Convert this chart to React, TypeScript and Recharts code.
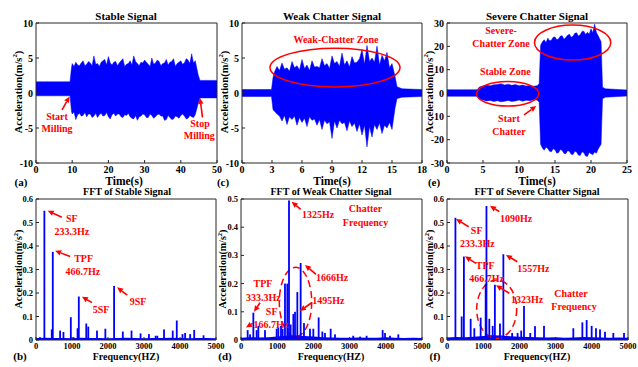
import React from 'react'
import {
  ComposedChart,
  Area,
  Bar,
  XAxis,
  YAxis,
  ReferenceDot,
  ReferenceLine,
  ReferenceArea,
} from 'recharts'

const BLUE = '#0000ff'
const RED = '#ff0000'
const AXIS = '#262626'
const FONT = '"Liberation Serif", "Times New Roman", Times, "DejaVu Serif", serif'

// (a) stable signal, envelope of the acceleration trace
const aTime = [
  0, 3, 6, 9.4, 9.8,
  10, 10.5, 11, 11.5, 12, 12.5, 13, 13.5, 14, 14.5,
  15, 15.5, 16, 16.5, 17, 17.5, 18, 18.5, 19, 19.5,
  20, 20.5, 21, 21.5, 22, 22.5, 23, 23.5, 24, 24.5,
  25, 25.5, 26, 26.5, 27, 27.5, 28, 28.5, 29, 29.5,
  30, 30.5, 31, 31.5, 32, 32.5, 33, 33.5, 34, 34.5,
  35, 35.5, 36, 36.5, 37, 37.5, 38, 38.5, 39, 39.5,
  40, 40.5, 41, 41.5, 42, 42.5, 43, 43.5, 44,
  44.8, 45.3, 48, 50,
]
const aHigh = [
  1.6, 1.6, 1.6, 1.6, 3.6,
  4.2, 3.8, 4.4, 4.0, 3.9, 4.3, 4.6, 3.9, 4.1, 4.5,
  4.3, 3.9, 5.3, 4.1, 4.2, 3.8, 4.4, 4.6, 4.8, 4.0,
  5.2, 4.3, 4.0, 4.4, 4.5, 3.9, 4.3, 4.6, 4.9, 3.8,
  4.1, 4.2, 4.6, 4.0, 5.3, 4.5, 4.2, 3.9, 4.4, 4.3,
  4.7, 4.4, 4.1, 3.8, 5.0, 4.1, 4.3, 4.7, 4.5, 3.9,
  4.2, 4.3, 4.8, 4.0, 4.4, 4.5, 4.9, 3.8, 4.2, 4.4,
  4.6, 4.1, 4.3, 4.9, 4.7, 4.2, 5.6, 4.3, 4.6,
  2.6, 1.8, 1.8, 1.8,
]
const aLow = [
  -0.4, -0.4, -0.4, -0.4, -2.6,
  -3.0, -2.7, -3.8, -3.1, -2.9, -3.3, -3.2, -2.8, -3.4, -3.0,
  -3.0, -3.5, -3.3, -2.9, -3.5, -3.1, -2.9, -3.3, -3.2, -2.8,
  -3.4, -3.7, -3.1, -2.9, -3.3, -3.0, -3.0, -3.4, -3.5, -3.1,
  -3.2, -2.9, -3.4, -3.6, -3.7, -3.2, -3.9, -3.4, -3.3, -3.0,
  -3.1, -3.5, -3.5, -3.0, -3.2, -3.6, -3.4, -3.1, -3.0, -3.3,
  -3.3, -3.9, -3.8, -3.2, -3.5, -3.8, -3.7, -3.3, -3.4, -3.6,
  -3.2, -3.0, -3.3, -3.7, -3.6, -3.2, -3.4, -3.5, -3.1,
  -1.5, -0.7, -0.7, -0.7,
]

// (c) weak chatter signal
const cTime = [
  0, 2.95, 3.1,
  3.25, 3.5, 3.75, 4, 4.25, 4.5, 4.75, 5,
  5.25, 5.5, 5.75, 6, 6.25, 6.5, 6.75, 7,
  7.25, 7.5, 7.75, 8, 8.25, 8.5, 8.75, 9,
  9.25, 9.5, 9.75, 10, 10.25, 10.5, 10.75, 11,
  11.25, 11.5, 11.75, 12, 12.25, 12.5, 12.75, 13,
  13.25, 13.5, 13.75, 14, 14.25, 14.5, 14.75, 15,
  15.3, 15.5, 16, 18,
]
const cHigh = [
  0.5, 0.5, 2.2,
  3.0, 3.8, 3.2, 4.3, 3.4, 3.6, 3.1, 4.5,
  3.6, 3.9, 3.3, 4.8, 3.5, 4.0, 3.2, 4.6,
  3.7, 3.8, 3.6, 4.9, 3.9, 4.2, 3.5, 5.3,
  4.2, 4.5, 3.8, 5.7, 4.0, 4.6, 3.7, 5.2,
  4.3, 4.4, 4.9, 6.2, 4.1, 6.8, 4.5, 5.0,
  4.4, 6.7, 4.0, 5.4, 4.6, 5.8, 3.6, 4.2,
  2.4, 0.9, 0.6, 0.5,
]
const cLow = [
  -0.5, -0.5, -2.4,
  -2.6, -3.0, -3.3, -4.0, -3.2, -4.5, -3.4, -3.8,
  -3.3, -4.6, -3.5, -4.2, -3.6, -4.8, -3.4, -3.9,
  -3.7, -4.6, -3.8, -5.2, -3.9, -4.4, -4.1, -6.5,
  -4.0, -5.0, -3.9, -4.4, -4.2, -5.4, -4.0, -4.8,
  -4.3, -5.5, -4.4, -6.0, -4.6, -7.7, -4.8, -6.3,
  -4.5, -5.2, -4.3, -5.8, -4.6, -5.0, -4.2, -5.2,
  -2.2, -0.8, -0.6, -0.5,
]

// (e) severe chatter signal
const eTime = [
  0, 4.2,
  4.5, 5, 5.5, 6, 6.5, 7, 7.5, 8, 8.5, 9, 9.5, 10, 10.5, 11, 11.5, 12, 12.5,
  12.8,
  13, 13.25, 13.5, 13.75, 14, 14.25, 14.5, 14.75,
  15, 15.25, 15.5, 15.75, 16, 16.25, 16.5, 16.75,
  17, 17.25, 17.5, 17.75, 18, 18.25, 18.5, 18.75,
  19, 19.25, 19.5, 19.75, 20, 20.25, 20.5, 20.75,
  21,
  21.4, 21.6, 22, 25,
]
const eHigh = [
  1.4, 1.4,
  2.6, 3.0, 3.3, 3.1, 3.5, 3.6, 4.0, 3.4, 3.8, 3.3, 3.6, 3.1, 3.4, 3.0, 3.2, 2.9, 3.1,
  4.0,
  20.5, 22.0, 22.8, 21.6, 23.5, 22.4, 22.6, 23.9,
  24.0, 22.8, 23.2, 24.4, 24.5, 23.0, 23.8, 24.8,
  25.2, 23.9, 24.3, 25.6, 25.8, 24.4, 25.0, 26.4,
  26.5, 25.1, 26.0, 25.2, 27.5, 25.8, 29.5, 26.0,
  24.5,
  22.0, 2.5, 1.8, 1.3,
]
const eLow = [
  -1.4, -1.4,
  -2.6, -3.0, -3.4, -3.2, -3.6, -3.3, -3.8, -3.5, -3.2, -3.6, -3.4, -3.0, -3.5, -3.1, -3.3, -2.9, -3.0,
  -4.0,
  -22.0, -23.6, -24.5, -23.2, -23.8, -25.0, -25.2, -23.9,
  -24.3, -25.8, -25.5, -24.2, -24.6, -25.9, -26.0, -24.7,
  -25.0, -26.3, -26.4, -25.0, -25.3, -26.6, -26.8, -25.2,
  -25.6, -27.0, -27.2, -25.5, -26.0, -26.5, -25.3, -25.8,
  -24.0,
  -22.0, -2.5, -1.8, -1.3,
]

// FFT spectra: spectral peaks and the low noise floor
const bFreq = [112, 233, 438, 467, 670, 763, 968, 1043, 1155, 1190, 1397, 1453, 1695, 1927, 2170, 2412, 2654, 2905, 3138, 3324, 3371, 3557, 3799, 3911, 4069, 4143, 4283, 4395, 4655]
const bAmp = [0.012, 0.55, 0.045, 0.375, 0.04, 0.034, 0.097, 0.012, 0.05, 0.185, 0.07, 0.057, 0.04, 0.048, 0.23, 0.036, 0.04, 0.028, 0.025, 0.018, 0.018, 0.045, 0.04, 0.083, 0.025, 0.03, 0.025, 0.043, 0.02]

const dFreq = [184, 250, 341, 433, 479, 663, 985, 1031, 1105, 1150, 1215, 1280, 1326, 1372, 1446, 1492, 1556, 1648, 1740, 1906, 1998, 2145, 2247, 2320, 2477, 2597, 3100, 3290, 3470, 3913, 3978, 4116, 4346]
const dAmp = [0.035, 0.02, 0.097, 0.035, 0.05, 0.035, 0.04, 0.045, 0.05, 0.04, 0.2, 0.2, 0.495, 0.055, 0.092, 0.1, 0.17, 0.273, 0.06, 0.04, 0.04, 0.08, 0.03, 0.025, 0.04, 0.02, 0.015, 0.012, 0.015, 0.035, 0.025, 0.015, 0.02]

const fFreq = [233, 405, 467, 654, 755, 930, 1068, 1090, 1169, 1262, 1323, 1464, 1557, 1800, 1950, 2050, 2127, 2300, 2431, 2680, 3490, 3739, 3858, 3996, 4116, 4227, 4365, 4595, 4890]
const fAmp = [0.52, 0.1, 0.355, 0.09, 0.05, 0.095, 0.24, 0.57, 0.09, 0.06, 0.235, 0.07, 0.365, 0.03, 0.03, 0.04, 0.145, 0.03, 0.059, 0.06, 0.05, 0.075, 0.085, 0.06, 0.05, 0.045, 0.035, 0.03, 0.03]

const floorFreq = [0, 250, 500, 750, 1000, 1250, 1500, 1750, 2000, 2250, 2500, 2750, 3000, 3250, 3500, 3750, 4000, 4250, 4500, 4750, 5000]
const bFloor = [0.008, 0.01, 0.008, 0.009, 0.007, 0.01, 0.008, 0.009, 0.007, 0.008, 0.01, 0.008, 0.007, 0.009, 0.008, 0.01, 0.008, 0.007, 0.009, 0.008, 0.007]
const dFloor = [0.008, 0.01, 0.009, 0.01, 0.012, 0.015, 0.016, 0.014, 0.012, 0.01, 0.009, 0.008, 0.008, 0.009, 0.008, 0.008, 0.01, 0.008, 0.007, 0.008, 0.007]
const fFloor = [0.011, 0.013, 0.012, 0.014, 0.017, 0.02, 0.019, 0.016, 0.014, 0.013, 0.012, 0.011, 0.012, 0.01, 0.011, 0.013, 0.012, 0.011, 0.01, 0.011, 0.01]

const timeTicksA = [0, 10, 20, 30, 40, 50]
const timeTicksC = [0, 3, 6, 9, 12, 15, 18]
const timeTicksE = [0, 5, 10, 15, 20, 25]
const accTicks10 = [-10, -5, 0, 5, 10]
const accTicks30 = [-30, -20, -10, 0, 10, 20, 30]
const freqTicks = [0, 1000, 2000, 3000, 4000, 5000]
const ampTicks6 = [0, 0.1, 0.2, 0.3, 0.4, 0.5, 0.6]
const ampTicks5 = [0, 0.1, 0.2, 0.3, 0.4, 0.5]

const signalRows = (t: number[], hi: number[], lo: number[]) =>
  t.map((x, i) => ({ x, range: [lo[i], hi[i]] }))

const fftRows = (freq: number[], amp: number[], floor: number[]) => {
  const rows: any[] = freq.map((x, i) => ({ x, amp: amp[i] }))
  floorFreq.forEach((x, i) => rows.push({ x, floor: floor[i] }))
  return rows.sort((p, q) => p.x - q.x)
}

type Note = [number, number, string]
type Arrow = [number, number, number, number]
type Zone = [number, number, number, number]

function ArrowShape(props: any) {
  const { x1, y1, x2, y2 } = props
  const ang = Math.atan2(y2 - y1, x2 - x1)
  const len = 6
  const half = 2.8
  const bx = x2 - len * Math.cos(ang)
  const by = y2 - len * Math.sin(ang)
  const px = -Math.sin(ang) * half
  const py = Math.cos(ang) * half
  return (
    <g>
      <line x1={x1} y1={y1} x2={bx} y2={by} stroke={RED} strokeWidth={1.6} />
      <polygon points={`${x2},${y2} ${bx + px},${by + py} ${bx - px},${by - py}`} fill={RED} />
    </g>
  )
}

// thin spectral line, centred on the bar's x whatever band width recharts picks
function SpikeShape(p: any) {
  if (!p.height || !isFinite(p.height)) return <g />
  return <rect x={p.x + p.width / 2 - 0.9} y={p.y} width={1.8} height={p.height} fill={BLUE} />
}

function Panel({
  box, data, kind, xDomain, yDomain, xTicks, yTicks, tickFont,
  notes = [], arrows = [], zones = [], dashed = false,
}: any) {
  const cw = box.w + 40
  const ch = box.h + 30
  const tickStyle = { fill: '#000', fontSize: tickFont, fontWeight: 700, fontFamily: FONT }
  return (
    <div style={{ position: 'absolute', left: box.left - 30, top: box.top - 10 }}>
      <ComposedChart width={cw} height={ch} data={data} margin={{ top: 5, right: 5, bottom: 0, left: 0 }}>
        <XAxis
          dataKey="x" type="number" domain={xDomain} ticks={xTicks} interval={0}
          allowDataOverflow height={20} tickSize={-3} tickMargin={6}
          axisLine={{ stroke: AXIS }} tickLine={{ stroke: AXIS }} tick={tickStyle}
        />
        <XAxis
          xAxisId="top" orientation="top" type="number" domain={xDomain} ticks={xTicks}
          interval={0} allowDataOverflow height={5} tickSize={-3} tick={false}
          axisLine={{ stroke: AXIS }} tickLine={{ stroke: AXIS }}
        />
        <YAxis
          type="number" domain={yDomain} ticks={yTicks} interval={0} allowDataOverflow
          width={30} tickSize={-3} tickMargin={6}
          axisLine={{ stroke: AXIS }} tickLine={{ stroke: AXIS }} tick={tickStyle}
        />
        <YAxis
          yAxisId="right" orientation="right" type="number" domain={yDomain} ticks={yTicks}
          interval={0} allowDataOverflow width={5} tickSize={-3} tick={false}
          axisLine={{ stroke: AXIS }} tickLine={{ stroke: AXIS }}
        />
        {kind === 'signal' ? (
          <Area
            dataKey="range" type="linear" stroke={BLUE} strokeWidth={0.5} fill={BLUE}
            fillOpacity={1} dot={false} activeDot={false} isAnimationActive={false}
          />
        ) : null}
        {kind === 'fft' ? (
          <Area
            dataKey="floor" type="linear" connectNulls stroke="none" fill={BLUE}
            fillOpacity={1} dot={false} activeDot={false} isAnimationActive={false}
          />
        ) : null}
        {kind === 'fft' ? (
          <Bar dataKey="amp" fill={BLUE} barSize={2} shape={SpikeShape} isAnimationActive={false} />
        ) : null}
        {zones.map((z: Zone, i: number) => (
          <ReferenceArea
            key={`z${i}`} x1={z[0]} x2={z[1]} y1={z[2]} y2={z[3]} ifOverflow="visible"
            shape={(p: any) => (
              <ellipse
                cx={p.x + p.width / 2} cy={p.y + p.height / 2}
                rx={Math.abs(p.width) / 2} ry={Math.abs(p.height) / 2}
                fill="none" stroke={RED} strokeWidth={1.5}
                strokeDasharray={dashed ? '7 4' : undefined}
              />
            )}
          />
        ))}
        {arrows.map((a: Arrow, i: number) => (
          <ReferenceLine
            key={`a${i}`} segment={[{ x: a[0], y: a[1] }, { x: a[2], y: a[3] }]}
            ifOverflow="visible" shape={ArrowShape}
          />
        ))}
        {notes.map((n: Note, i: number) => (
          <ReferenceDot
            key={`n${i}`} x={n[0]} y={n[1]} ifOverflow="visible"
            shape={(p: any) => (
              <text
                x={p.cx} y={p.cy} textAnchor="middle" dominantBaseline="central"
                fill={RED} fontSize={10} fontWeight={700} fontFamily={FONT}
              >
                {n[2]}
              </text>
            )}
          />
        ))}
      </ComposedChart>
    </div>
  )
}

function Caption({ x, y, size, rotate = false, children }: any) {
  return (
    <div
      style={{
        position: 'absolute', left: x, top: y,
        transform: `translate(-50%, -50%)${rotate ? ' rotate(-90deg)' : ''}`,
        fontFamily: FONT, fontWeight: 700, fontSize: size, lineHeight: 1,
        whiteSpace: 'nowrap', color: '#000',
      }}
    >
      {children}
    </div>
  )
}

const AccLabel = () => (
  <span>
    Acceleration(m/s<sup style={{ fontSize: '0.65em', lineHeight: 0 }}>2</sup>)
  </span>
)

export default function App() {
  return (
    <div style={{ position: 'absolute', left: 0, top: 0, width: 638, height: 367, background: '#fff', overflow: 'hidden' }}>
      {/* top row: time signals */}
      <Panel
        box={{ left: 36, top: 23, w: 181, h: 140 }} kind="signal"
        data={signalRows(aTime, aHigh, aLow)} xDomain={[0, 50]} yDomain={[-10, 10]}
        xTicks={timeTicksA} yTicks={accTicks10} tickFont={10}
        notes={[[5.8, -3.4, 'Start'], [5.8, -5.1, 'Milling'], [45.3, -4.3, 'Stop'], [45.1, -6.1, 'Milling']]}
        arrows={[[7.2, -2.4, 9.3, -0.5], [46.0, -3.5, 45.3, -0.7]]}
      />
      <Panel
        box={{ left: 242, top: 23, w: 180, h: 140 }} kind="signal"
        data={signalRows(cTime, cHigh, cLow)} xDomain={[0, 18]} yDomain={[-10, 10]}
        xTicks={timeTicksC} yTicks={accTicks10} tickFont={10}
        notes={[[9.4, 7.6, 'Weak-Chatter Zone']]}
        zones={[[2.8, 15.8, 0.86, 6.4]]}
      />
      <Panel
        box={{ left: 447, top: 23, w: 180, h: 140 }} kind="signal"
        data={signalRows(eTime, eHigh, eLow)} xDomain={[0, 25]} yDomain={[-30, 30]}
        xTicks={timeTicksE} yTicks={accTicks30} tickFont={10}
        notes={[[7.5, 27, 'Severe-'], [7.5, 21.3, 'Chatter Zone'], [8.1, 9.3, 'Stable Zone'], [8.6, -11, 'Start'], [8.6, -16.3, 'Chatter']]}
        arrows={[[10.7, -9.4, 12.4, -5.6]]}
        zones={[[12.15, 22.75, 14.1, 29.1], [4.1, 12.75, -5.6, 4.9]]}
      />

      {/* bottom row: spectra */}
      <Panel
        box={{ left: 36, top: 199, w: 180, h: 141 }} kind="fft"
        data={fftRows(bFreq, bAmp, bFloor)} xDomain={[0, 5000]} yDomain={[0, 0.6]}
        xTicks={freqTicks} yTicks={ampTicks6} tickFont={8.5}
        notes={[[997, 0.518, 'SF'], [997, 0.461, '233.3Hz'], [1322, 0.345, 'TPF'], [1299, 0.291, '466.7Hz'], [1810, 0.128, '5SF'], [2835, 0.163, '9SF']]}
        arrows={[[717, 0.522, 326, 0.55], [950, 0.355, 531, 0.38], [1556, 0.159, 1276, 0.184], [2533, 0.191, 2254, 0.224]]}
      />
      <Panel
        box={{ left: 241, top: 199, w: 181, h: 141 }} kind="fft"
        data={fftRows(dFreq, dAmp, dFloor)} xDomain={[0, 5000]} yDomain={[0, 0.5]}
        xTicks={freqTicks} yTicks={ampTicks5} tickFont={8.5} dashed
        notes={[[2127, 0.446, '1325Hz'], [3440, 0.467, 'Chatter'], [3440, 0.418, 'Frequency'], [2514, 0.22, '1666Hz'], [2412, 0.139, '1495Hz'], [608, 0.201, 'TPF'], [620, 0.152, '333.3Hz'], [848, 0.1, 'SF'], [823, 0.055, '166.7Hz']]}
        arrows={[[1649, 0.463, 1400, 0.49], [2072, 0.233, 1768, 0.266], [1952, 0.132, 1630, 0.103], [525, 0.132, 359, 0.1], [322, 0.059, 138, 0.044]]}
        zones={[[1058, 1953, 0.012, 0.258]]}
      />
      <Panel
        box={{ left: 447, top: 199, w: 181, h: 141 }} kind="fft"
        data={fftRows(fFreq, fAmp, fFloor)} xDomain={[0, 5000]} yDomain={[0, 0.6]}
        xTicks={freqTicks} yTicks={ampTicks6} tickFont={8.5} dashed
        notes={[[1906, 0.516, '1090Hz'], [820, 0.467, 'SF'], [840, 0.411, '233.3Hz'], [1058, 0.319, 'TPF'], [1095, 0.262, '466.7Hz'], [2385, 0.303, '1557Hz'], [2210, 0.171, '1323Hz'], [3425, 0.2, 'Chatter'], [3508, 0.142, 'Frequency']]}
        arrows={[[1445, 0.546, 1188, 0.571], [598, 0.482, 249, 0.515], [801, 0.326, 497, 0.356], [1942, 0.333, 1630, 0.362], [1721, 0.199, 1354, 0.233]]}
        zones={[[820, 1925, 0.007, 0.255]]}
      />

      <Caption x={126} y={16} size={11}>Stable Signal</Caption>
      <Caption x={332} y={16} size={11}>Weak Chatter Signal</Caption>
      <Caption x={537} y={16} size={11}>Severe Chatter Signal</Caption>
      <Caption x={127} y={192} size={10}>FFT of Stable Signal</Caption>
      <Caption x={331} y={192} size={10}>FFT of Weak Chatter Signal</Caption>
      <Caption x={537} y={192} size={10}>FFT of Severe Chatter Signal</Caption>

      <Caption x={19} y={92} size={10.5} rotate><AccLabel /></Caption>
      <Caption x={225} y={92} size={10.5} rotate><AccLabel /></Caption>
      <Caption x={430} y={92} size={10.5} rotate><AccLabel /></Caption>
      <Caption x={19} y={269} size={10} rotate><AccLabel /></Caption>
      <Caption x={223} y={269} size={10} rotate><AccLabel /></Caption>
      <Caption x={430} y={269} size={10} rotate><AccLabel /></Caption>

      <Caption x={124} y={182} size={11.5}>Time(s)</Caption>
      <Caption x={332} y={182} size={11.5}>Time(s)</Caption>
      <Caption x={537} y={182} size={11.5}>Time(s)</Caption>
      <Caption x={126} y={357} size={10}>Frequency(HZ)</Caption>
      <Caption x={331} y={357} size={10}>Frequency(HZ)</Caption>
      <Caption x={537} y={357} size={10}>Frequency(HZ)</Caption>

      <Caption x={21} y={182} size={11}>(a)</Caption>
      <Caption x={223} y={182} size={11}>(c)</Caption>
      <Caption x={434} y={182} size={11}>(e)</Caption>
      <Caption x={20} y={356} size={11}>(b)</Caption>
      <Caption x={225} y={356} size={11}>(d)</Caption>
      <Caption x={435} y={356} size={11}>(f)</Caption>
    </div>
  )
}
